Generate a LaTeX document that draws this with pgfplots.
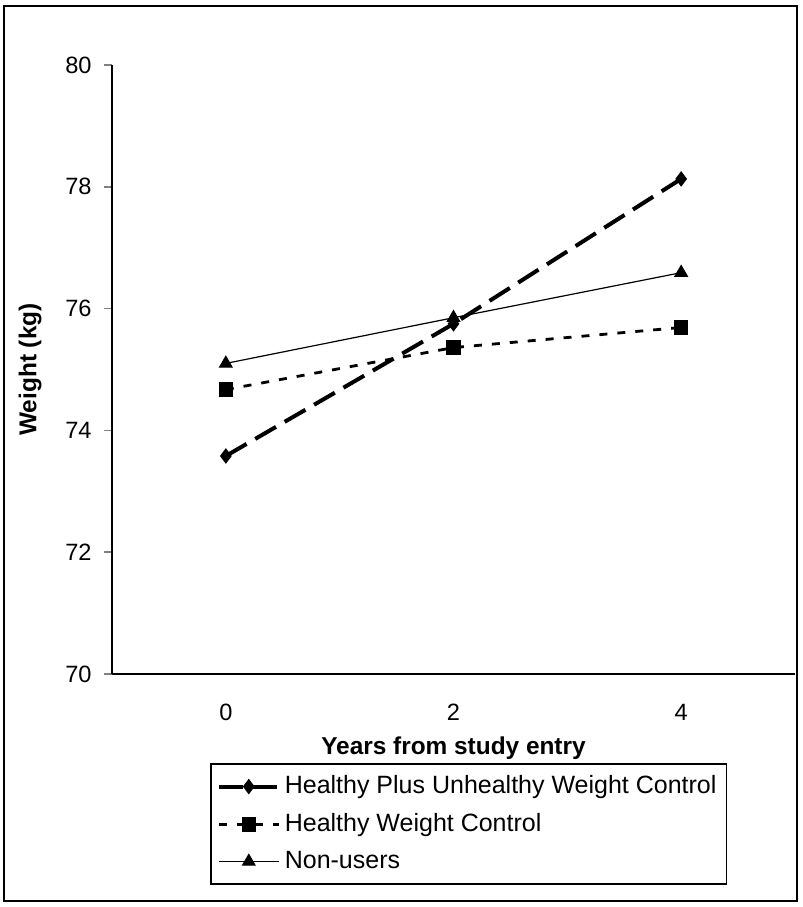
\documentclass[border=0pt]{standalone}
\usepackage{fontspec}
\setmainfont{Liberation Sans}
\usepackage{pgfplots}
\pgfplotsset{compat=1.18}
\begin{document}
\fontsize{12}{14}\selectfont
\begin{tikzpicture}
\path (0,0) rectangle (400pt,453.5pt);
\draw[line width=0.8pt] (2pt,3pt) rectangle (398.5pt,450.5pt);
\begin{axis}[
  scale only axis,
  width=341.5pt, height=304.5pt,
  at={(56pt,116.5pt)}, anchor=south west,
  xmin=-0.5, xmax=2.5, ymin=70, ymax=80,
  axis x line=bottom, axis y line=left,
  axis line style={-, line width=0.8pt},
  xtick={0,1,2}, xticklabels={0,2,4},
  x tick style={draw=none},
  extra x ticks={-0.5,0.5,1.5,2.5}, extra x tick labels={},
  extra x tick style={tick style={draw=black, line width=0.8pt}, major tick length=4pt},
  ytick={70,72,...,80},
  y tick style={line width=0.8pt},
  tick align=outside, major tick length=4pt,
  /pgf/number format/assume math mode=true,
  ticklabel style={font=\fontsize{11.8}{14}\selectfont},
  xticklabel style={yshift=-7pt},
  yticklabel style={xshift=-2pt},
  xlabel={\textbf{Years from study entry}},
  ylabel={\textbf{Weight (kg)}},
  label style={font=\fontsize{12.2}{14}\selectfont},
  xlabel style={at={(axis description cs:0.5,0)}, anchor=center, yshift=-37pt},
  ylabel style={at={(axis description cs:0,0.5)}, anchor=center, yshift=41pt},
  clip=false,
  legend style={draw=black, line width=0.8pt, at={(axis description cs:0.1435,-0.146)}, anchor=north west,
    legend cell align=left, font=\fontsize{12.5}{15}\selectfont, row sep=4pt, inner xsep=3pt, inner ysep=4pt},
  legend image code/.code={
    \draw[mark repeat=2,mark phase=2] plot coordinates {(0pt,0pt) (15pt,0pt) (30pt,0pt)};
  },
]
\addplot[black, line width=2pt, dash pattern=on 12pt off 5pt, mark=diamond*, mark size=3.5pt, mark options={solid, line width=0.5pt}]
  coordinates {(0,73.58) (1,75.75) (2,78.13)};
\addlegendentry{Healthy Plus Unhealthy Weight Control}
\addplot[black, line width=1.4pt, dash pattern=on 4pt off 5pt, mark=square*, mark size=3.4pt, mark options={solid, line width=0.5pt}]
  coordinates {(0,74.67) (1,75.36) (2,75.69)};
\addlegendentry{Healthy Weight Control}
\addplot[black, line width=0.6pt, mark=triangle*, mark size=3.6pt, mark options={solid, line width=0.5pt}]
  coordinates {(0,75.10) (1,75.85) (2,76.59)};
\addlegendentry{Non-users}
\end{axis}
\end{tikzpicture}
\end{document}
